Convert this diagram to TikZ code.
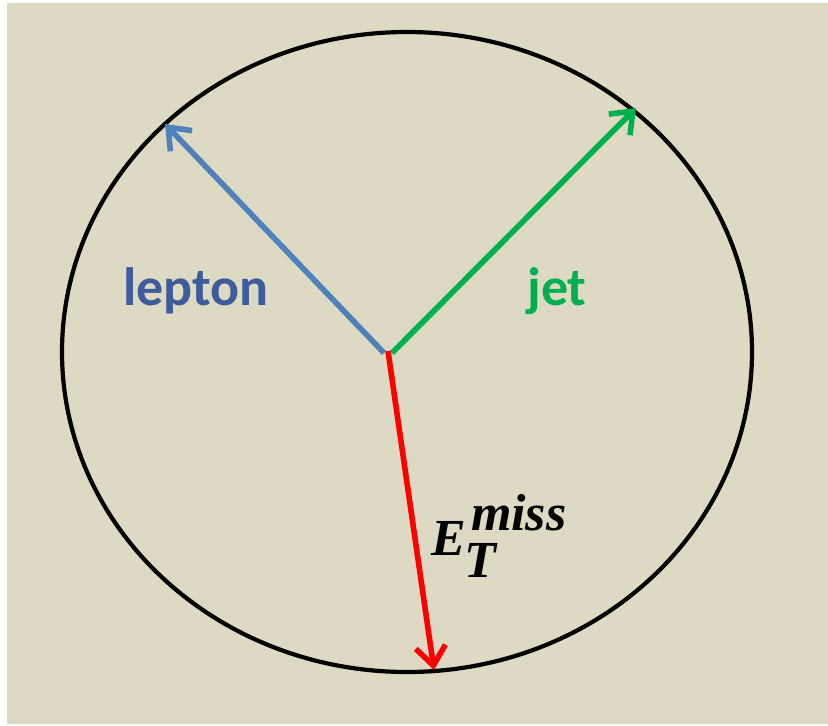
\documentclass[tikz,border=0pt]{standalone}
\usepackage{fontspec}
\setmainfont{Liberation Serif}
\newfontfamily\evtfont{Carlito}
\usetikzlibrary{arrows.meta}
\definecolor{evtPaper}{HTML}{DDD9C3}
\definecolor{evtInk}{HTML}{000000}
\definecolor{evtBlue}{HTML}{4F81BD}
\definecolor{evtBlueText}{HTML}{3D5C9B}
\definecolor{evtGreen}{HTML}{00B050}
\definecolor{evtRed}{HTML}{FF0000}
\tikzset{
  evt ring/.style={draw=evtInk, line width=4.2pt},
  evt arrow/.style={-{Straight Barb[length=19pt,width=30pt]},
    line width=5.6pt, line cap=butt},
  evt label/.style={font=\evtfont\bfseries\fontsize{54}{60}\selectfont,
    inner sep=0pt, anchor=base},
  evt math/.style={font=\bfseries\itshape\fontsize{52}{60}\selectfont,
    inner sep=0pt, anchor=base west}
}

\begin{document}
\begin{tikzpicture}[x=1pt,y=-1pt]
  \useasboundingbox (0,0) rectangle (828,726);
  \fill[white] (0,0) rectangle (828,726);
  \fill[evtPaper] (7,3) rectangle (828,724);
  % detector ring
  \draw[evt ring] (407,352) ellipse [x radius=345, y radius=320];
  % vertex and arrow tips
  \coordinate (vtx) at (388,353);
  \coordinate (leptip) at (165,124);
  \coordinate (jettip) at (636,108);
  \coordinate (mettip) at (434,670);
  \draw[evt arrow, draw=evtBlue] ([xshift=-4pt]vtx) -- (leptip);
  \draw[evt arrow, draw=evtGreen] ([xshift=4pt]vtx) -- (jettip);
  \draw[evt arrow, draw=evtRed] ([yshift=2pt]vtx) -- (mettip);
  % labels
  \node[evt label, text=evtBlueText] (leplbl) at (196,305) {lepton};
  \node[evt label, text=evtGreen] (jetlbl) at (557,305) {jet};
  \node[evt math] (metlbl) at (431,555)
    {E\rlap{\raisebox{0.47em}{\kern0.1em miss}}\kern-0.03em\raisebox{-0.44em}{T}};
\end{tikzpicture}
\end{document}
